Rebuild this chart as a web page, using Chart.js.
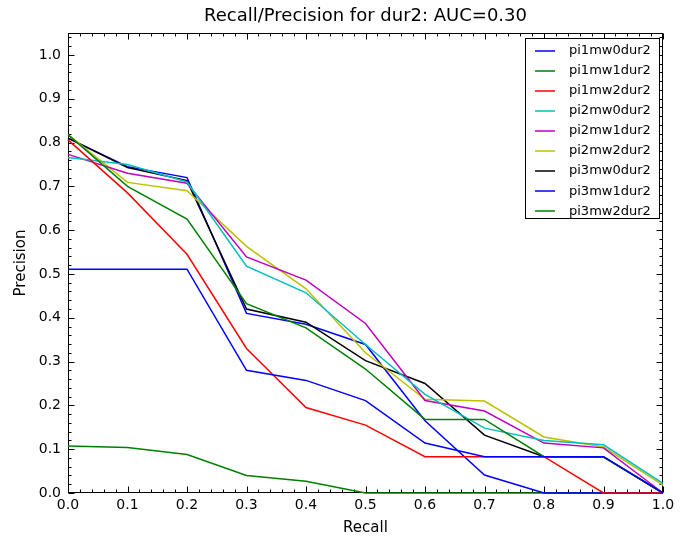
<!DOCTYPE html>
<html><head><meta charset="utf-8">
<script src="https://cdn.jsdelivr.net/npm/chart.js@4/dist/chart.umd.min.js"></script>
<style>html,body{margin:0;padding:0;background:#fff}</style>
</head><body>
<canvas id="c" width="693" height="538" style="display:block;width:693px;height:538px"></canvas>
<script>
const recall = [0.0,0.1,0.2,0.3,0.4,0.5,0.6,0.7,0.8,0.9,1.0];
const seriesNames = ['pi1mw0dur2','pi1mw1dur2','pi1mw2dur2','pi2mw0dur2','pi2mw1dur2','pi2mw2dur2','pi3mw0dur2','pi3mw1dur2','pi3mw2dur2'];
const pi1mw0dur2 = [0.511,0.511,0.511,0.28,0.257,0.211,0.114,0.083,0.083,0.083,0.0];
const pi1mw1dur2 = [0.818,0.70,0.625,0.432,0.377,0.283,0.168,0.168,0.083,0.083,0.0];
const pi1mw2dur2 = [0.806,0.685,0.545,0.33,0.195,0.155,0.083,0.083,0.083,0.0,0.0];
const pi2mw0dur2 = [0.766,0.75,0.71,0.518,0.457,0.339,0.225,0.148,0.12,0.11,0.022];
const pi2mw1dur2 = [0.773,0.73,0.707,0.539,0.486,0.387,0.211,0.187,0.114,0.103,0.0];
const pi2mw2dur2 = [0.818,0.709,0.69,0.563,0.466,0.32,0.214,0.21,0.128,0.105,0.018];
const pi3mw0dur2 = [0.81,0.743,0.713,0.42,0.39,0.302,0.25,0.132,0.083,0.082,0.0];
const pi3mw1dur2 = [0.81,0.745,0.72,0.41,0.385,0.339,0.165,0.041,0.0,0.0,0.0];
const pi3mw2dur2 = [0.107,0.104,0.088,0.04,0.027,0.0,0.0,0.0,0.0,0.0,0.0];
const seriesValues = [pi1mw0dur2,pi1mw1dur2,pi1mw2dur2,pi2mw0dur2,pi2mw1dur2,pi2mw2dur2,pi3mw0dur2,pi3mw1dur2,pi3mw2dur2];
const seriesColors = ['#0000ff','#008000','#ff0000','#00bfbf','#bf00bf','#bfbf00','#000000','#0000ff','#008000'];
const xTickLabels = ['0.0','0.1','0.2','0.3','0.4','0.5','0.6','0.7','0.8','0.9','1.0'];
const yTickLabels = ['0.0','0.1','0.2','0.3','0.4','0.5','0.6','0.7','0.8','0.9','1.0'];

const FONT = 'DejaVu Sans';

const datasets = seriesNames.map((n,i)=>({
  label: n,
  data: recall.map((x,j)=>({x:x, y:seriesValues[i][j]})),
  borderColor: seriesColors[i],
  backgroundColor: seriesColors[i],
  borderWidth: 1.5,
  pointRadius: 0,
  tension: 0,
  fill: false,
  clip: 3
}));

const framePlugin = {
  id: 'frame',
  beforeDatasetsDraw(chart) {
    const {ctx, chartArea: a, scales: {x, y}} = chart;
    ctx.save();
    ctx.strokeStyle = '#000';
    ctx.lineWidth = 1;
    const L = Math.round(a.left)+0.5, R = Math.round(a.right)-0.5, T = Math.round(a.top)+0.5, B = Math.round(a.bottom)-0.5;
    ctx.beginPath();
    for (let k = 0; k <= 50; k++) {
      const v = k*0.02;
      const px = Math.round(x.getPixelForValue(v)) + 0.5;
      const len = (k % 5 === 0) ? 6 : 3;
      ctx.moveTo(px, B); ctx.lineTo(px, B - len);
      ctx.moveTo(px, T); ctx.lineTo(px, T + len);
    }
    for (let k = 0; k <= 52; k++) {
      const v = k*0.02;
      const py = Math.round(y.getPixelForValue(v)) + 0.5;
      const len = (k % 5 === 0) ? 6 : 3;
      ctx.moveTo(L, py); ctx.lineTo(L + len, py);
      ctx.moveTo(R, py); ctx.lineTo(R - len, py);
    }
    ctx.stroke();
    ctx.strokeRect(L, T, R - L, B - T);
    ctx.restore();
  },
  afterDraw(chart) {
    const ctx = chart.ctx;
    ctx.save();
    const bx = 525.5, by = 38.5, bw = 134, bh = 180;
    ctx.fillStyle = '#fff';
    ctx.fillRect(bx, by, bw, bh);
    ctx.strokeStyle = '#000';
    ctx.lineWidth = 1;
    ctx.strokeRect(bx, by, bw, bh);
    ctx.font = '13px "' + FONT + '"';
    ctx.textBaseline = 'middle';
    ctx.textAlign = 'left';
    chart.data.datasets.forEach((ds, i) => {
      const yy = 50.5 + i*20.1;
      ctx.strokeStyle = ds.borderColor;
      ctx.lineWidth = 1.5;
      ctx.beginPath();
      ctx.moveTo(535, Math.round(yy));
      ctx.lineTo(555, Math.round(yy));
      ctx.stroke();
      ctx.fillStyle = '#000';
      ctx.fillText(ds.label, 569, yy);
    });
    ctx.restore();
  }
};

new Chart(document.getElementById('c'), {
  type: 'line',
  data: { datasets },
  plugins: [framePlugin],
  options: {
    responsive: false,
    animation: false,
    devicePixelRatio: 1,
    layout: { padding: { left: 0, right: 30, top: 0, bottom: 0 } },
    plugins: {
      legend: { display: false },
      tooltip: { enabled: false },
      title: {
        display: true,
        text: 'Recall/Precision for dur2: AUC=0.30',
        fullSize: false,
        color: '#000',
        font: { family: FONT, size: 18, weight: 'normal', lineHeight: 1.2 },
        padding: { top: 6, bottom: 5.4 }
      }
    },
    scales: {
      x: {
        type: 'linear', min: 0, max: 1,
        afterFit(s) { s.height = 45; },
        afterBuildTicks(s) { s.ticks = xTickLabels.map(t => ({value: parseFloat(t)})); },
        grid: { display: false, drawTicks: false },
        border: { display: false },
        ticks: { color: '#000', font: { family: FONT, size: 14 }, padding: 4, maxRotation: 0, autoSkip: false,
          callback: (v) => Number(v).toFixed(1) },
        title: { display: true, text: 'Recall', color: '#000', font: { family: FONT, size: 15 }, padding: { top: 0, bottom: 1 } }
      },
      y: {
        type: 'linear', min: 0, max: 1.05,
        afterFit(s) { s.width = 68; },
        afterBuildTicks(s) { s.ticks = yTickLabels.map(t => ({value: parseFloat(t)})); },
        grid: { display: false, drawTicks: false },
        border: { display: false },
        ticks: { color: '#000', font: { family: FONT, size: 14 }, padding: 7, autoSkip: false,
          callback: (v) => Number(v).toFixed(1) },
        title: { display: true, text: 'Precision', color: '#000', font: { family: FONT, size: 15 }, padding: { top: 12, bottom: 0 } }
      }
    }
  }
});
</script>
</body></html>
